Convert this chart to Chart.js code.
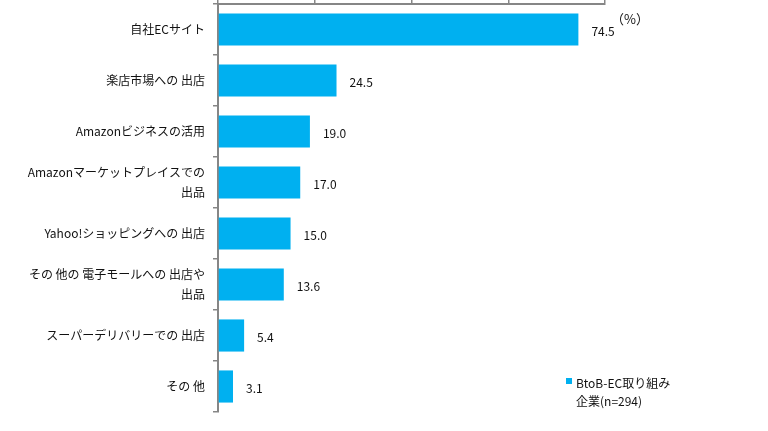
<!DOCTYPE html>
<html><head><meta charset="utf-8">
<script src="https://cdn.jsdelivr.net/npm/chart.js@4"></script>
<style>html,body{margin:0;padding:0;background:#fff;}#wrap{width:768px;height:431px;position:relative}</style>
</head><body><div id="wrap"><canvas id="c" width="768" height="431"></canvas></div>
<script>
const categories = [["自社ECサイト"],["楽店市場への 出店"],["Amazonビジネスの活用"],["Amazonマーケットプレイスでの","出品"],["Yahoo!ショッピングへの 出店"],["その 他の 電子モールへの 出店や","出品"],["スーパーデリバリーでの 出店"],["その 他"]];
const values = [74.5, 24.5, 19.0, 17.0, 15.0, 13.6, 5.4, 3.1];
const seriesName = ["BtoB-EC取り組み", "企業(n=294)"];
const unitLabel = "（%）";
const xMin = 0, xMax = 80, xStep = 20;

const FONT = '"Noto Sans CJK JP", "Noto Sans", sans-serif';
const BAR = '#00B0F0';
const AXIS = '#868686';
const TEXT = '#111111';

const annot = {
  id: 'annot',
  afterDatasetsDraw(chart) {
    const ctx = chart.ctx;
    const meta = chart.getDatasetMeta(0);
    const ca = chart.chartArea;
    ctx.save();
    ctx.fillStyle = TEXT;
    ctx.textBaseline = 'middle';
    ctx.textAlign = 'left';
    ctx.font = '12px ' + FONT;
    meta.data.forEach((bar, i) => {
      ctx.fillText(values[i].toFixed(1), bar.x + 13, bar.y + 2);
    });
    ctx.font = '13px ' + FONT;
    ctx.fillText(unitLabel, ca.right + 6, 19);
    ctx.fillStyle = BAR;
    ctx.fillRect(566, 378, 6, 6);
    ctx.fillStyle = TEXT;
    ctx.font = '12px ' + FONT;
    ctx.fillText(seriesName[0], 576, 383);
    ctx.fillText(seriesName[1], 576, 401);
    ctx.restore();
  }
};

new Chart(document.getElementById('c'), {
  type: 'bar',
  data: {
    labels: categories,
    datasets: [{
      label: seriesName.join(''),
      data: values,
      backgroundColor: BAR,
      borderWidth: 0,
      barPercentage: 0.63,
      categoryPercentage: 1
    }]
  },
  options: {
    indexAxis: 'y',
    responsive: false,
    animation: false,
    devicePixelRatio: 1,
    layout: { padding: { top: 0, left: 0, right: 163, bottom: 19 } },
    plugins: { legend: { display: false }, tooltip: { enabled: false } },
    scales: {
      x: {
        position: 'top',
        min: xMin, max: xMax,
        ticks: { display: false, stepSize: xStep },
        grid: { drawOnChartArea: false, drawTicks: true, tickLength: 4, color: AXIS, lineWidth: 1.5 },
        border: { display: true, color: AXIS, width: 2 },
        afterFit(s) { s.height = 4; s.paddingLeft = 0; s.paddingRight = 0; }
      },
      y: {
        ticks: { color: TEXT, font: { family: FONT, size: 12, lineHeight: 1.6 }, padding: 8, autoSkip: false },
        grid: { offset: true, drawOnChartArea: false, drawTicks: true, tickLength: 5, color: AXIS, lineWidth: 1.5 },
        border: { display: true, color: AXIS, width: 2 },
        afterFit(s) { s.width = 218; s.paddingTop = 0; s.paddingBottom = 0; }
      }
    }
  },
  plugins: [annot]
});
</script></body></html>
